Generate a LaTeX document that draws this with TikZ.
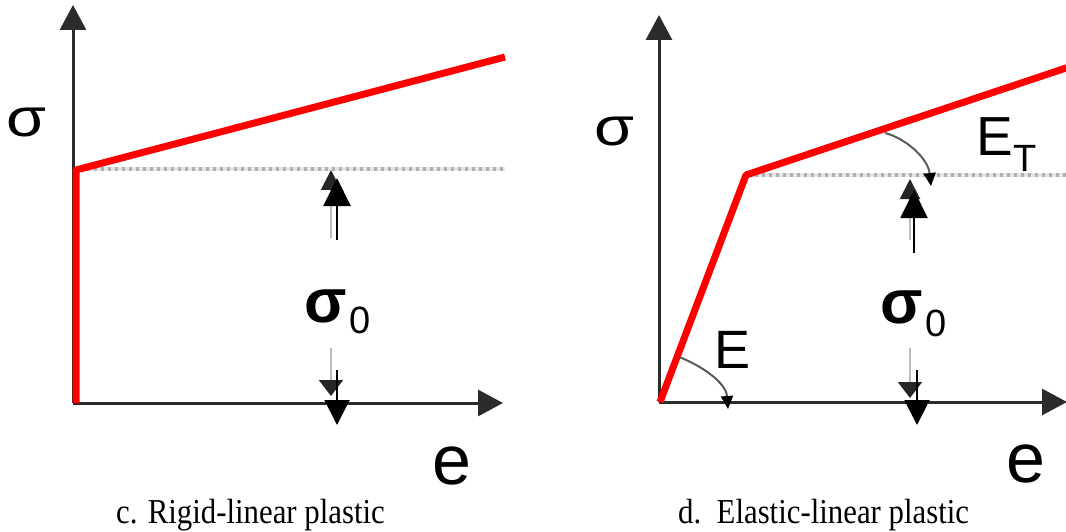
\documentclass[tikz,border=0pt]{standalone}
\usepackage{fontspec}
\setmainfont{Liberation Serif}
\newfontfamily\arial{Liberation Sans}
\usetikzlibrary{arrows.meta}
\definecolor{axisc}{HTML}{2B2B2B}
\definecolor{redc}{HTML}{FF0000}
\definecolor{dotlight}{HTML}{E4E4E4}
\definecolor{dotdark}{HTML}{B0B0B0}
\definecolor{ghostc}{HTML}{BBBBBB}
\definecolor{arcc}{HTML}{5A5A5A}
\begin{document}
\begin{tikzpicture}[x=1pt,y=-1pt,
  axis/.style={draw=axisc,line width=3pt,-{Triangle[length=25pt,width=26pt]}},
  curve/.style={draw=redc,line width=7pt,line join=round},
  yieldbase/.style={draw=dotlight,line width=4pt},
  yielddash/.style={draw=dotdark,line width=4pt,dash pattern=on 3pt off 4pt},
  uparrow/.style={draw=black,line width=2pt,-{Triangle[length=28pt,width=27pt]}},
  downarrow/.style={draw=black,line width=2pt,-{Triangle[length=25pt,width=25pt]}},
  ghostup/.style={draw=ghostc,line width=2pt,-{Triangle[length=20pt,width=20pt,color=black!85]}},
  ghostdown/.style={draw=ghostc,line width=2pt,-{Triangle[length=16pt,width=24pt,color=black!85]}},
  slopearc/.style={draw=arcc,line width=2pt,-{Triangle[length=13pt,width=12pt,color=black]}},
  lbl/.style={inner sep=0pt,font=\arial\fontsize{52pt}{52pt}\selectfont},
  siglbl/.style={inner sep=0pt,font=\arial\fontsize{54pt}{54pt}\selectfont},
  elbl/.style={inner sep=0pt,font=\arial\fontsize{70pt}{70pt}\selectfont},
  sigbold/.style={inner sep=0pt,font=\arial\bfseries\fontsize{62pt}{62pt}\selectfont},
  subl/.style={inner sep=0pt,font=\arial\fontsize{38pt}{38pt}\selectfont},
  caption/.style={inner sep=0pt,anchor=base west,font=\fontsize{35pt}{35pt}\selectfont}]
\useasboundingbox (0,0) rectangle (1066,532);

% ---------------- left panel (c) ----------------
\coordinate (oL) at (73,403);
\coordinate (yL) at (73,5);
\coordinate (xL) at (503,403);
\coordinate (rL0) at (76,403);
\coordinate (rL1) at (76,170);
\coordinate (rL2) at (505,57);
\coordinate (dL0) at (80,169);
\coordinate (dL1) at (505,169);
\coordinate (uLs) at (337,240);
\coordinate (uLt) at (337,178);
\coordinate (guLs) at (331,238);
\coordinate (guLt) at (331,170);
\coordinate (dLs) at (337,370);
\coordinate (dLt) at (337,425);
\coordinate (gdLs) at (331,348);
\coordinate (gdLt) at (331,396);

\draw[axis] (oL) -- (yL);
\draw[axis] (oL) -- (xL);
\draw[yieldbase] (dL0) -- (dL1);
\draw[yielddash] (dL0) -- (dL1);
\draw[curve] (rL0) -- (rL1) -- (rL2);
\draw[ghostup] (guLs) -- (guLt);
\draw[uparrow] (uLs) -- (uLt);
\draw[ghostdown] (gdLs) -- (gdLt);
\draw[downarrow] (dLs) -- (dLt);

\node[siglbl] (sigL) at (26,122) {\scalebox{1.2}[1]{σ}};
\node[sigbold] (s0L) at (326,306) {σ};
\node[subl] (z0L) at (360,320) {0};
\node[elbl] (eL) at (452,466) {e};
\node[caption] (capL) at (116,523) {\scalebox{0.88}[1]{c. Rigid-linear plastic}};

% ---------------- right panel (d) ----------------
\coordinate (oR) at (659,402);
\coordinate (yR) at (659,15);
\coordinate (xR) at (1067,402);
\coordinate (rR0) at (660,402);
\coordinate (rR1) at (746,175);
\coordinate (rR2) at (1075,65);
\coordinate (dR0) at (748,175);
\coordinate (dR1) at (1070,175);
\coordinate (uRs) at (914,253);
\coordinate (uRt) at (914,190);
\coordinate (guRs) at (910,240);
\coordinate (guRt) at (910,179);
\coordinate (dRs) at (917,370);
\coordinate (dRt) at (917,425);
\coordinate (gdRs) at (910,348);
\coordinate (gdRt) at (910,398);
\coordinate (eA0) at (679,357);
\coordinate (eA1) at (728,409);
\coordinate (tA0) at (885,133);
\coordinate (tA1) at (931,186);

\draw[axis] (oR) -- (yR);
\draw[axis] (oR) -- (xR);
\draw[yieldbase] (dR0) -- (dR1);
\draw[yielddash] (dR0) -- (dR1);
\draw[curve] (rR0) -- (rR1) -- (rR2);
\draw[slopearc] (eA0) .. controls (700,365) and (726,382) .. (eA1);
\draw[slopearc] (tA0) .. controls (905,138) and (928,158) .. (tA1);
\draw[ghostup] (guRs) -- (guRt);
\draw[uparrow] (uRs) -- (uRt);
\draw[ghostdown] (gdRs) -- (gdRt);
\draw[downarrow] (dRs) -- (dRt);

\node[siglbl] (sigR) at (614,131) {\scalebox{1.2}[1]{σ}};
\node[lbl,font=\arial\fontsize{54pt}{54pt}\selectfont] (eR) at (733,350) {E};
\node[lbl,font=\arial\fontsize{55pt}{55pt}\selectfont] (eT) at (995,137) {E};
\node[subl] (tT) at (1025,158) {T};
\node[sigbold] (s0R) at (902,307) {σ};
\node[subl] (z0R) at (936,323) {0};
\node[elbl] (eR2) at (1026,464) {e};
\node[caption] (capR) at (678,523) {\scalebox{0.88}[1]{d.\ \ Elastic-linear plastic}};
\end{tikzpicture}
\end{document}
